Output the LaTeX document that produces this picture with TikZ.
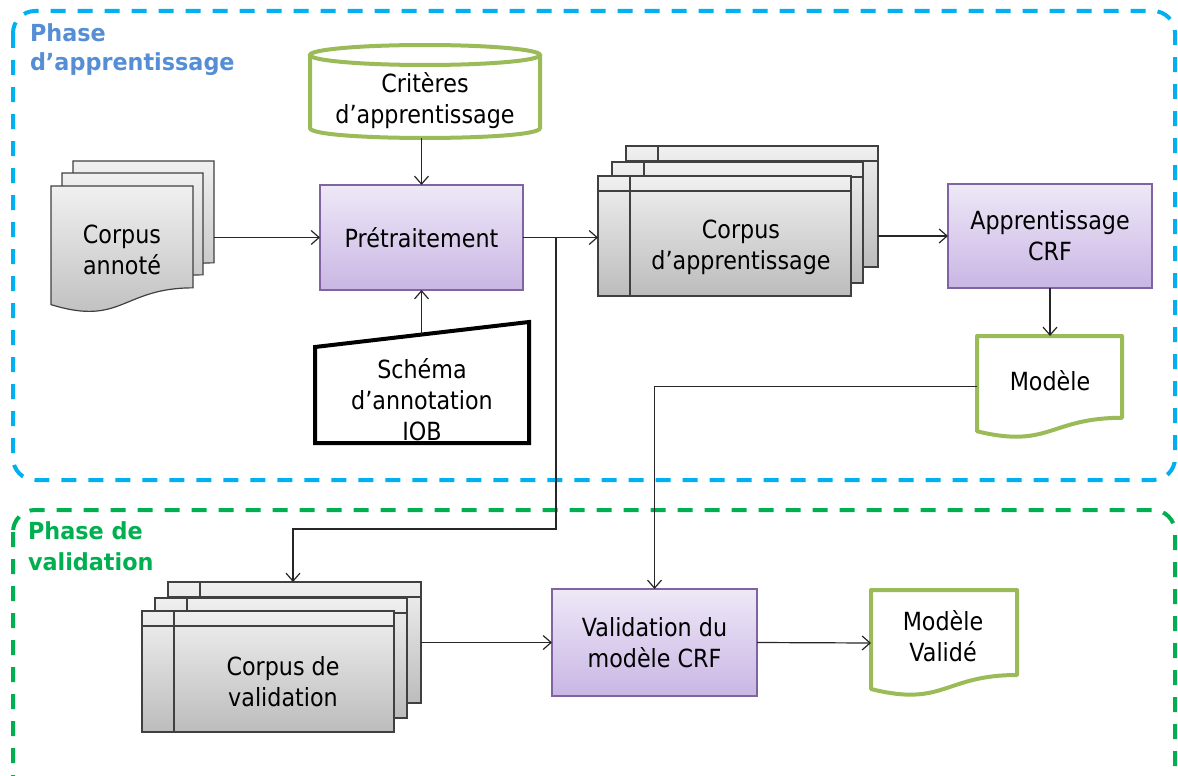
\documentclass[tikz,border=0pt]{standalone}
\usepackage{fontspec}
\setmainfont{DejaVu Sans}[FakeStretch=0.89]
\newfontfamily\titlefont{DejaVu Sans}[FakeStretch=0.95]
\usetikzlibrary{arrows.meta,calc}
\definecolor{bluedash}{HTML}{00B0F0}
\definecolor{greendash}{HTML}{00B050}
\definecolor{titleblue}{HTML}{558ED5}
\definecolor{olive}{HTML}{9BBB59}
\definecolor{purpleedge}{HTML}{8064A2}
\definecolor{purpletop}{HTML}{EEE8F7}
\definecolor{purplebot}{HTML}{C9B6E4}
\definecolor{greytop}{HTML}{F0F0F0}
\definecolor{greybot}{HTML}{BCBCBC}
\definecolor{greyedge}{HTML}{404040}
\newcommand{\istore}[4]{%
  \path[sheet] (#1,#2) rectangle (#3,#4);
  \draw[sheetline] (#1+32,#2) -- (#1+32,#4);
  \draw[sheetline] (#1,#2+15) -- (#3,#2+15);}
\newcommand{\docshape}[5]{%
  \path[#1] (#2,#3) -- (#2+#4,#3) -- (#2+#4,#3+0.802*#5)
    .. controls (#2+0.5*#4,#3+0.802*#5) and (#2+0.5*#4,#3+1.1075*#5) .. (#2,#3+0.934*#5) -- cycle;}
\begin{document}
\begin{tikzpicture}[x=1pt,y=-1pt,
  every node/.style={inner sep=0pt, outer sep=0pt},
  txt/.style={align=center, font=\fontsize{25}{31}\selectfont},
  conn/.style={line width=1.2pt, draw=black!85, -{Straight Barb[length=8pt,width=14pt]}},
  sheet/.style={draw=greyedge, line width=1.2pt, top color=greytop, bottom color=greybot},
  sheetline/.style={draw=greyedge, line width=1.2pt},
  greendoc/.style={draw=olive, line width=4pt, fill=white, line join=round},
  procbox/.style={draw=purpleedge, line width=1.2pt, top color=purpletop, bottom color=purplebot, align=center, font=\fontsize{25}{31}\selectfont},
  region/.style={line width=4pt, dash pattern=on 15pt off 12pt, rounded corners=22pt}
]
\useasboundingbox (0,0) rectangle (1178,776);
% regions
\draw[region, draw=bluedash] (13,11) rectangle (1175,480);
\draw[region, draw=greendash] (13,510) rectangle (1175,820);
\node[anchor=north west, align=left, text=titleblue, font=\titlefont\bfseries\fontsize{23.5}{29}\selectfont] (t1) at (30,24) {Phase\\d’apprentissage};
\node[anchor=north west, align=left, text=greendash, font=\titlefont\bfseries\fontsize{23.5}{31}\selectfont] (t2) at (28,522) {Phase de\\validation};

% Critères (cylinder)
\path[draw=olive, line width=4pt, fill=white] (310,55) -- (310,128) .. controls (310,141.3) and (540,141.3) .. (540,128) -- (540,55);
\draw[draw=olive, line width=4pt, fill=white] (425,55) ellipse [x radius=115pt, y radius=10pt];
\node[minimum width=230pt, minimum height=78pt] (crit) at (425,99) {};
\node[txt] (critt) at (425,101) {Critères\\d’apprentissage};

% Corpus annoté (multi document)
\docshape{sheet}{73}{161}{141}{127}
\docshape{sheet}{62}{173}{141}{127}
\docshape{sheet}{51}{186}{142}{127}
\node[minimum width=163pt, minimum height=147pt] (ca) at (132.5,234.5) {};
\node[txt] (cat) at (122,250) {Corpus\\annoté};

% Prétraitement
\node[procbox, minimum width=203pt, minimum height=105pt] (pre) at (421.5,237.5) {Prétraitement};

% Schéma d'annotation (manual input)
\draw[line width=4pt, line join=miter] (315,347) -- (529,322) -- (529,443) -- (315,443) -- cycle;
\node[minimum width=214pt, minimum height=109pt] (sch) at (422,388.5) {};
\node[txt] (scht) at (422,400) {Schéma\\d’annotation\\IOB};

% Corpus d'apprentissage (stacked internal storage)
\istore{626}{146}{878}{267}
\istore{612}{162}{863}{283}
\istore{598}{176}{851}{296}
\node[minimum width=280pt, minimum height=150pt] (cda) at (738,221) {};
\node[txt] (cdat) at (741,247) {Corpus\\d’apprentissage};

% Apprentissage CRF
\node[procbox, minimum width=204pt, minimum height=104pt] (acrf) at (1050,236) {Apprentissage\\CRF};

% Modèle
\docshape{greendoc}{977}{336}{145}{102}
\node[minimum width=145pt, minimum height=101pt] (mod) at (1049.5,386.5) {};
\node[txt] (modt) at (1050,381) {Modèle};

% Corpus de validation
\istore{168}{582}{421}{703}
\istore{155}{598}{407}{718}
\istore{142}{611}{394}{732}
\node[minimum width=279pt, minimum height=150pt] (cdv) at (281.5,657) {};
\node[txt] (cdvt) at (283,682) {Corpus de\\validation};

% Validation du modèle CRF
\node[procbox, minimum width=205pt, minimum height=107pt] (val) at (654.5,642.5) {Validation du\\modèle CRF};

% Modèle validé
\docshape{greendoc}{871}{590}{146}{106}
\node[minimum width=146pt, minimum height=106pt] (mv) at (944,643) {};
\node[txt] (mvt) at (943,636) {Modèle\\Validé};

% connectors
\coordinate (br) at ($(pre.east)+(33,0)$);
\coordinate (turn) at (556.5,529);
\coordinate (cdvin) at (293,582);
\draw[conn] (pre.west -| ca.east) -- (pre.west);
\draw[conn] (pre.north |- crit.south) -- (pre.north);
\draw[conn] (pre.south |- sch.north) -- (pre.south);
\draw[conn] (pre.east) -- (pre.east -| cda.west);
\draw[conn] (br) -- (br |- turn) -| (cdvin);
\draw[conn] (cda.east |- acrf.west) -- (acrf.west);
\draw[conn] (acrf.south) -- (acrf.south |- mod.north);
\draw[conn] (mod.west) -| (val.north);
\draw[conn] (val.west -| cdv.east) -- (val.west);
\draw[conn] (val.east) -- (mv.west);
\end{tikzpicture}
\end{document}
